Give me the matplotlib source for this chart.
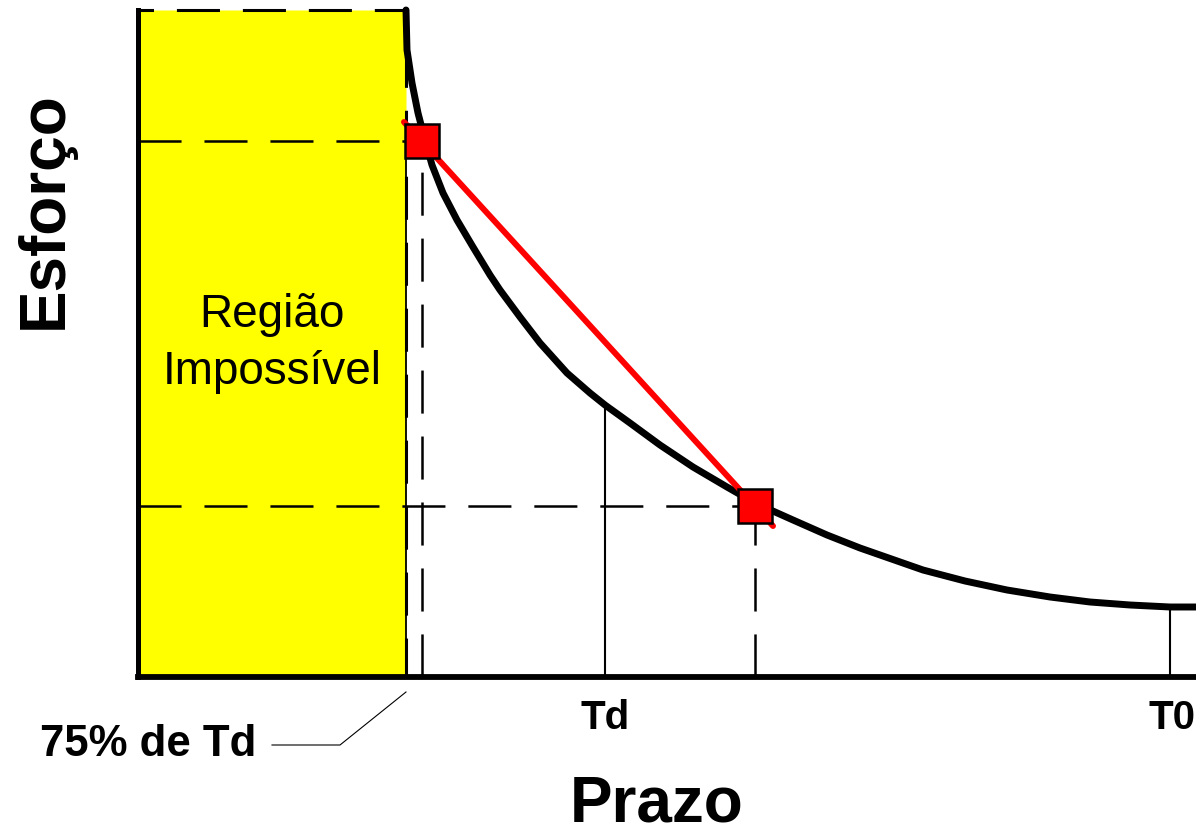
import matplotlib
matplotlib.use("Agg")
import matplotlib.pyplot as plt
from matplotlib.patches import Rectangle

plt.rcParams["font.family"] = ["Liberation Sans", "DejaVu Sans"]
plt.rcParams["lines.scale_dashes"] = False

# schematic units (origin at the axes corner)
prazo_curva = [268, 269, 274, 280, 287, 294, 305, 319, 335, 352, 362, 382,
               402, 429, 452, 467, 492, 522, 555, 589, 617, 655, 689, 722,
               785, 827, 869, 912, 952, 992, 1032, 1058]
esforco_curva = [667, 627, 594, 564, 537, 512, 484, 457, 430, 402, 387, 360,
                 334, 304, 284, 272, 254, 232, 210, 190, 174, 157, 142, 129,
                 107, 96, 87, 80, 75, 72, 70, 70]

prazo_75 = 268       # 75% de Td
prazo_td = 467       # Td
prazo_t0 = 1032      # T0
esforco_td = 270
esforco_t0 = 70

pontos_prazo = [284, 617]
pontos_esforco = [536, 171]
reta_prazo = [266, 635]
reta_esforco = [555, 151]

x_max, y_max = 1058, 667
dash = (0, (31, 16.5))

fig = plt.figure(figsize=(11.96, 8.35), dpi=100)
ax = fig.add_axes([138 / 1196, 158 / 835, 1058 / 1196, 667 / 835])
ax.set_xlim(0, x_max)
ax.set_ylim(0, y_max)
for s in ("top", "right"):
    ax.spines[s].set_visible(False)
ax.spines["left"].set_linewidth(3.6)
ax.spines["bottom"].set_linewidth(4.2)
ax.spines["left"].set_zorder(6)
ax.spines["bottom"].set_zorder(6)
ax.set_xticks([])
ax.set_yticks([])

# impossible region
ax.add_patch(Rectangle((0, 0), prazo_75, y_max, facecolor="#ffff00",
                       edgecolor="black", linewidth=2.2, linestyle=dash,
                       zorder=1, clip_on=False))
ax.text(prazo_75 / 2, 362, "Região", ha="center", va="center", fontsize=33, zorder=2)
ax.text(prazo_75 / 2, 305, "Impossível", ha="center", va="center", fontsize=33, zorder=2)

# guide lines
ax.plot([prazo_75, prazo_75], [0, pontos_esforco[0]], color="black", lw=1.3, zorder=2)
ax.plot([prazo_td, prazo_td], [0, esforco_td], color="black", lw=1.5, zorder=2)
ax.plot([prazo_t0, prazo_t0], [0, esforco_t0], color="black", lw=1.5, zorder=2)
for px, py in zip(pontos_prazo, pontos_esforco):
    ax.plot([0, px], [py, py], color="black", lw=1.8, linestyle=dash, zorder=2)
    ax.plot([px, px], [0, py], color="black", lw=1.8, linestyle=dash, zorder=2)

# effort curve and linear approximation
ax.plot(prazo_curva, esforco_curva, color="black", lw=5, zorder=3,
        solid_capstyle="round", solid_joinstyle="round", clip_on=False)
ax.plot(reta_prazo, reta_esforco, color="red", lw=4.3, zorder=4,
        solid_capstyle="round")
ax.plot(pontos_prazo, pontos_esforco, linestyle="none", marker="s", markersize=24,
        markerfacecolor="red", markeredgecolor="black", markeredgewidth=1.8, zorder=5)

# labels
ax.text(prazo_td, -41, "Td", ha="center", va="center", fontsize=29,
        fontweight="bold", clip_on=False)
ax.text(prazo_t0 + 2, -41, "T0", ha="center", va="center", fontsize=29,
        fontweight="bold", clip_on=False)
ax.text(-98, -68, "75% de Td", ha="left", va="center", fontsize=31.5,
        fontweight="bold", clip_on=False)
ax.plot([134, 202, prazo_75], [-68, -68, -15], color="black", lw=0.8, clip_on=False)
ax.text(519, -128, "Prazo", ha="center", va="center", fontsize=46,
        fontweight="bold", clip_on=False)
ax.text(-93, 467, "Esforço", ha="center", va="center", fontsize=46,
        fontweight="bold", rotation=90, clip_on=False)

fig.savefig("out.png", dpi=100)
